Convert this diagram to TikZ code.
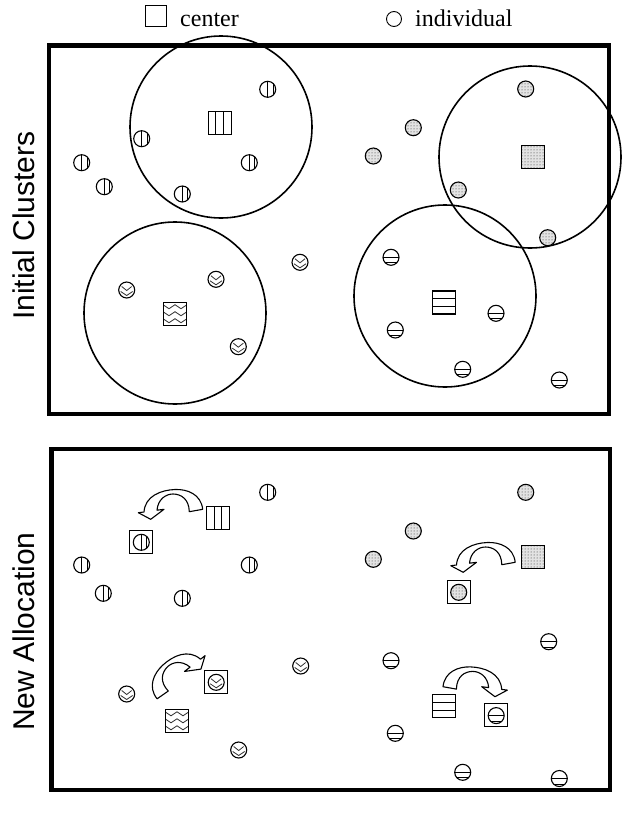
\documentclass[tikz,border=0pt]{standalone}
\usepackage{fontspec}
\setmainfont{Liberation Serif}
\setsansfont{Liberation Sans}
\usetikzlibrary{patterns}
\tikzset{
 ind/.style={circle, draw, line width=1.1pt, minimum size=16pt, inner sep=0pt},
 vind/.style={ind, path picture={
   \draw[line width=1pt] (path picture bounding box.north) -- (path picture bounding box.south);
   \draw[line width=1pt] ([xshift=5.5pt]path picture bounding box.north) -- ([xshift=5.5pt]path picture bounding box.south);}},
 hind/.style={ind, path picture={
   \draw[line width=1pt] (path picture bounding box.west) -- (path picture bounding box.east);
   \draw[line width=1pt] ([yshift=-5.5pt]path picture bounding box.west) -- ([yshift=-5.5pt]path picture bounding box.east);}},
 dind/.style={ind, pattern=dots, pattern color=black!85, preaction={fill=gray!22}},
 zind/.style={ind, path picture={
   \begin{scope}[shift={(path picture bounding box.center)}]
   \draw[gray!40!black, line width=0.8pt] (-5,-3.5)--(0,0.5)--(5,-3.5) (-6,1.5)--(0,5.5)--(6,1.5);
   \end{scope}}},
 sq/.style={rectangle, draw, line width=1.3pt, minimum size=23pt, inner sep=0pt},
 vsq/.style={sq, path picture={
   \draw[line width=1pt] ([xshift=-3.83pt]path picture bounding box.north) -- ([xshift=-3.83pt]path picture bounding box.south);
   \draw[line width=1pt] ([xshift=3.83pt]path picture bounding box.north) -- ([xshift=3.83pt]path picture bounding box.south);}},
 hsq/.style={sq, path picture={
   \draw[line width=1pt] ([yshift=-3.83pt]path picture bounding box.west) -- ([yshift=-3.83pt]path picture bounding box.east);
   \draw[line width=1pt] ([yshift=3.83pt]path picture bounding box.west) -- ([yshift=3.83pt]path picture bounding box.east);}},
 dsq/.style={sq, pattern=dots, pattern color=black!85, preaction={fill=gray!22}},
 zsq/.style={sq, path picture={
   \begin{scope}[shift={(path picture bounding box.center)}]
   \foreach \r in {-7,0,7}
     \draw[gray!40!black, line width=0.8pt] (-12,\r-2)--(-6,\r+2)--(0,\r-2)--(6,\r+2)--(12,\r-2);
   \end{scope}}},
 boxsq/.style={rectangle, draw, line width=1.2pt, minimum size=23pt, inner sep=0pt},
 clus/.style={circle, draw, line width=1.6pt, minimum size=182pt, inner sep=0pt},
 panel/.style={draw, line width=4.8pt},
 sidelab/.style={rotate=90, inner sep=0pt, font=\sffamily\fontsize{30}{34}\selectfont},
 legtext/.style={anchor=base west, inner sep=0pt, font=\fontsize{24}{28}\selectfont},
 curvarrow/.pic={
   \draw[line width=1.1pt, fill=white, line join=round]
     (29.7,-0.7) .. controls (28,-16) and (14,-21) .. (2,-20.5)
     .. controls (-12,-20) and (-28,-14) .. (-29,2)
     -- (-34.7,2.7) -- (-22.3,9.3) -- (-9,-0.7) -- (-16,0.2)
     .. controls (-15,-11) and (-7,-16) .. (0,-16)
     .. controls (8,-16) and (16,-11) .. (16.3,1.7) -- cycle;
 }
}
\begin{document}
\begin{tikzpicture}[x=1pt, y=-1pt]
\useasboundingbox (0,0) rectangle (625,819);
% legend
\node[draw, line width=0.9pt, minimum size=21pt, inner sep=0pt] (legsq) at (156,16) {};
\node[legtext] (legc) at (180,26.7) {center};
\node[circle, draw, line width=0.9pt, minimum size=15pt, inner sep=0pt] (legci) at (394,19) {};
\node[legtext] (legi) at (415,26.7) {individual};
% panels
\draw[panel] (49,45.5) rectangle (609,414);
\draw[panel] (51.5,449) rectangle (610,790);
\node[sidelab] (lab1) at (24,225.5) {Initial Clusters};
\node[sidelab] (lab2) at (24,631.5) {New Allocation};
% ---- top panel
\node[clus] (c1) at (221,127) {};
\node[clus] (c2) at (530,157) {};
\node[clus] (c3) at (445,296) {};
\node[clus] (c4) at (175,313) {};
\node[vsq] (sv) at (219.7,123.3) {};
\node[dsq] (sd) at (533.3,157.2) {};
\node[hsq] (sh) at (444,302.5) {};
\node[zsq] (sz) at (175,313.7) {};
\foreach \p [count=\i] in {(267.7,89.3),(141.7,138.7),(249.3,162.7),(81.7,162.7),(104.3,186.7),(182.3,194)}
  \node[vind] (tv\i) at \p {};
\foreach \p [count=\i] in {(525.7,89),(413.3,127.7),(373.3,156),(458.3,190),(547.7,237.7)}
  \node[dind] (td\i) at \p {};
\foreach \p [count=\i] in {(391,257.3),(496,313.3),(395.3,330),(462.7,369.3),(559.3,380)}
  \node[hind] (th\i) at \p {};
\foreach \p [count=\i] in {(126.7,290),(216,279.3),(238.3,346.7),(300,262.3)}
  \node[zind] (tz\i) at \p {};
% ---- bottom panel
\node[vsq] (bsv) at (218,518) {};
\node[dsq] (bsd) at (533.3,556.7) {};
\node[hsq] (bsh) at (444.2,706.2) {};
\node[zsq] (bsz) at (177,720.8) {};
\node[boxsq] (bbv) at (141.3,542) {};
\node[vind] (bcv) at (141.3,542.3) {};
\node[boxsq] (bbd) at (458.7,592) {};
\node[dind] (bcd) at (458.7,592.3) {};
\node[boxsq] (bbz) at (216.2,682) {};
\node[zind] (bcz) at (216.2,682.3) {};
\node[boxsq] (bbh) at (496.2,715.3) {};
\node[hind] (bch) at (496.2,715.6) {};
\foreach \p [count=\i] in {(267.7,492.3),(81.7,565),(249.3,565),(103.3,593.3),(182.3,598.3)}
  \node[vind] (bv\i) at \p {};
\foreach \p [count=\i] in {(525.7,492.3),(413.3,531),(373.3,559.3)}
  \node[dind] (bd\i) at \p {};
\foreach \p [count=\i] in {(548.7,641.7),(391,660.7),(395.3,733.3),(462.7,772.3),(559.3,778.5)}
  \node[hind] (bh\i) at \p {};
\foreach \p [count=\i] in {(126.7,694),(300.7,666),(238.7,750)}
  \node[zind] (bz\i) at \p {};
% arrows
\pic at (173,510) {curvarrow};
\pic at (485.5,563) {curvarrow};
\pic[rotate=45, xscale=-1] at (178.6,678.3) {curvarrow};
\pic[xscale=-1] at (472.7,687.4) {curvarrow};
\end{tikzpicture}
\end{document}
